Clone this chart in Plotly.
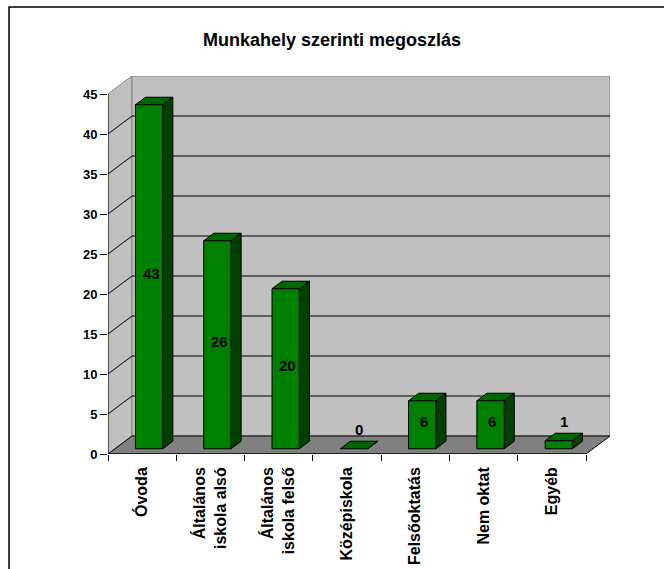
import plotly.graph_objects as go

# Data
categories = ["Óvoda", "Általános<br>iskola alsó", "Általános<br>iskola felső",
              "Középiskola", "Felsőoktatás", "Nem oktat", "Egyéb"]
counts = [43, 26, 20, 0, 6, 6, 1]
y_ticks = [0, 5, 10, 15, 20, 25, 30, 35, 40, 45]

# Layout constants (pixels)
W, H = 664, 569
ML, MR, MT, MB = 108, 54, 76, 115
DEPTH_PX_X, DEPTH_PX_Y = 24, 18
FONT = "Liberation Sans, Arial"

n = len(categories)
y_max = 45
plot_w = W - ML - MR
plot_h = H - MT - MB
x_lo = -0.5
# plot_w = (n + Dx) * px_per_cat, with Dx = DEPTH_PX_X / px_per_cat
px_per_cat = (plot_w - DEPTH_PX_X) / n
Dx = DEPTH_PX_X / px_per_cat
y_top = y_max * plot_h / (plot_h - DEPTH_PX_Y)
Dy = y_top - y_max
x_hi = n - 0.5 + Dx

WALL = "#C0C0C0"
FLOOR = "#808080"
EDGE = "#808080"
FRONT = "#008000"
TOP = "#006600"
SIDE = "#004000"


def poly(pts):
    return "M " + " L ".join(f"{x},{y}" for x, y in pts) + " Z"


shapes = []
# side wall
shapes.append(dict(type="path", xref="x", yref="y", layer="above",
                   path=poly([(x_lo, 0), (x_lo, y_max), (x_lo + Dx, y_max + Dy), (x_lo + Dx, Dy)]),
                   fillcolor=WALL, line=dict(color=EDGE, width=1)))
# back wall
shapes.append(dict(type="path", xref="x", yref="y", layer="above",
                   path=poly([(x_lo + Dx, Dy), (x_hi, Dy), (x_hi, y_max + Dy), (x_lo + Dx, y_max + Dy)]),
                   fillcolor=WALL, line=dict(color=EDGE, width=1)))
# floor
shapes.append(dict(type="path", xref="x", yref="y", layer="above",
                   path=poly([(x_lo, 0), (n - 0.5, 0), (x_hi, Dy), (x_lo + Dx, Dy)]),
                   fillcolor=FLOOR, line=dict(color="#000000", width=1)))
# gridlines on the walls
for v in y_ticks[1:-1]:
    shapes.append(dict(type="line", xref="x", yref="y", layer="above",
                       x0=x_lo, y0=v, x1=x_lo + Dx, y1=v + Dy,
                       line=dict(color="#000000", width=1)))
    shapes.append(dict(type="line", xref="x", yref="y", layer="above",
                       x0=x_lo + Dx, y0=v + Dy, x1=x_hi, y1=v + Dy,
                       line=dict(color="#000000", width=1)))
# front value axis and floor front edge
shapes.append(dict(type="line", xref="x", yref="y", layer="above",
                   x0=x_lo, y0=0, x1=x_lo, y1=y_max, line=dict(color="#000000", width=1)))
shapes.append(dict(type="line", xref="x", yref="y", layer="above",
                   x0=x_lo, y0=0, x1=n - 0.5, y1=0, line=dict(color="#000000", width=1)))

# 3D columns
bar_w = 0.4
f0, f1 = 0.29, 0.71
bx, by = (f1 - f0) * Dx, (f1 - f0) * Dy
annotations = []
for i, v in enumerate(counts):
    x0 = i - bar_w / 2 + f0 * Dx
    x1 = i + bar_w / 2 + f0 * Dx
    y0 = f0 * Dy
    y1 = v + f0 * Dy
    ln = dict(color="#000000", width=1)
    shapes.append(dict(type="path", xref="x", yref="y", layer="above",
                       path=poly([(x1, y0), (x1 + bx, y0 + by), (x1 + bx, y1 + by), (x1, y1)]),
                       fillcolor=SIDE, line=ln))
    shapes.append(dict(type="path", xref="x", yref="y", layer="above",
                       path=poly([(x0, y1), (x1, y1), (x1 + bx, y1 + by), (x0 + bx, y1 + by)]),
                       fillcolor=TOP, line=ln))
    if v > 0:
        shapes.append(dict(type="path", xref="x", yref="y", layer="above",
                           path=poly([(x0, y0), (x1, y0), (x1, y1), (x0, y1)]),
                           fillcolor=FRONT, line=ln))
    if v >= 3:
        lx, ly = i + 0.13, v / 2 + Dy / 2
    else:
        lx, ly = i + Dx / 2, v + Dy / 2 + 2.0
    annotations.append(dict(x=lx, y=ly, xref="x", yref="y", text=f"<b>{v}</b>", showarrow=False,
                            font=dict(family=FONT, size=15, color="#000000")))


# outer frame
def px_to_paper_x(px):
    return (px - ML) / plot_w


def px_to_paper_y(py):
    return (H - MB - py) / plot_h


shapes.append(dict(type="rect", xref="paper", yref="paper", layer="above",
                   x0=px_to_paper_x(9), y0=px_to_paper_y(H + 10),
                   x1=px_to_paper_x(W + 10), y1=px_to_paper_y(7),
                   line=dict(color="#000000", width=1.5), fillcolor="rgba(0,0,0,0)"))

fig = go.Figure()
fig.add_trace(go.Scatter(x=[x_lo, x_hi], y=[0, y_top], mode="markers",
                         marker=dict(opacity=0), hoverinfo="skip", showlegend=False))

fig.update_layout(
    width=W, height=H,
    margin=dict(l=ML, r=MR, t=MT, b=MB, pad=0),
    paper_bgcolor="white", plot_bgcolor="white",
    showlegend=False,
    title=dict(text="<b>Munkahely szerinti megoszlás</b>", xref="container", x=0.5,
               y=1 - 40 / H, yref="container", xanchor="center", yanchor="middle",
               font=dict(family=FONT, size=18, color="#000000")),
    xaxis=dict(range=[x_lo, x_hi], tickmode="array", tickvals=list(range(n)),
               ticktext=[f"<b>{c}</b>" for c in categories], tickangle=-90,
               ticks="", ticklabelstandoff=9, automargin=False,
               minor=dict(tickmode="array", tickvals=[k - 0.5 for k in range(n + 1)],
                          ticks="outside", ticklen=6, tickcolor="#000000", showgrid=False),
               showgrid=False, zeroline=False, showline=False, fixedrange=True,
               tickfont=dict(family=FONT, size=16, color="#000000")),
    yaxis=dict(range=[0, y_top], tickmode="array", tickvals=y_ticks,
               ticktext=[f"<b>{t}</b>" for t in y_ticks], automargin=False,
               ticks="outside", ticklen=7, tickcolor="#000000",
               showgrid=False, zeroline=False, showline=False, fixedrange=True,
               tickfont=dict(family=FONT, size=13, color="#000000")),
    shapes=shapes,
    annotations=annotations,
)

fig.write_html("out.html")
